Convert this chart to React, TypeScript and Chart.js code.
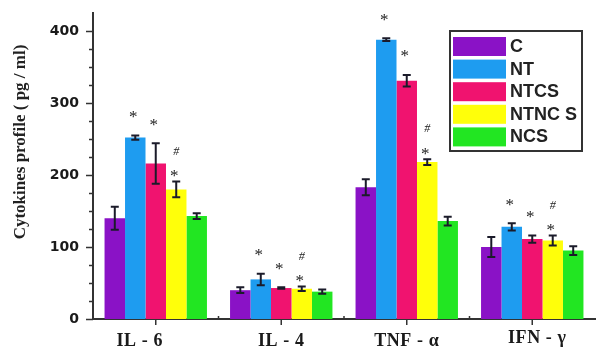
import React, { useEffect, useRef } from "react";
import { Chart, registerables } from "chart.js";

Chart.register(...registerables);

const categories = ["IL - 6", "IL - 4", "TNF - α", "IFN - γ"];
const seriesNames = ["C", "NT", "NTCS", "NTNC S", "NCS"];
const seriesColors = ["#8A12C6", "#1E9CF0", "#F0136F", "#FFFF0A", "#22E622"];

const valuesC = [140, 40, 183, 100];
const valuesNT = [252, 55, 388, 128];
const valuesNTCS = [216, 43, 331, 111];
const valuesNTNCS = [180, 42, 218, 109];
const valuesNCS = [143, 38, 136, 95];

const errC = [16, 4, 11, 14];
const errNT = [3, 8, 2, 5];
const errNTCS = [28, 1, 8, 5];
const errNTNCS = [11, 3, 4, 7];
const errNCS = [4, 3, 6, 6];

// significance marks per series, per category (stacked top->bottom)
const marksC = [[], [], [], []];
const marksNT = [["*"], ["*"], ["*"], ["*"]];
const marksNTCS = [["*"], ["*"], ["*"], ["*"]];
const marksNTNCS = [["#", "*"], ["#", "*"], ["#", "*"], ["#", "*"]];
const marksNCS = [[], [], [], []];

const yTickLabels = [0, 100, 200, 300, 400];
const yAxisTitle = "Cytokines profile ( pg / ml)";

const allValues = [valuesC, valuesNT, valuesNTCS, valuesNTNCS, valuesNCS];
const allErrors = [errC, errNT, errNTCS, errNTNCS, errNCS];
const allMarks = [marksC, marksNT, marksNTCS, marksNTNCS, marksNCS];

// small horizontal nudges of the category labels, as in the original figure
const labelNudge = [-16, 0, 0, 5];
const labelLift = [0, 0, 0, 3];

const decorPlugin = {
  id: "decor",
  afterDatasetsDraw(chart: any) {
    const ctx = chart.ctx;
    const y = chart.scales.y;
    const x = chart.scales.x;
    ctx.save();
    // error bars and marks
    chart.data.datasets.forEach((ds: any, i: number) => {
      const meta = chart.getDatasetMeta(i);
      meta.data.forEach((bar: any, j: number) => {
        const v = allValues[i][j];
        const e = allErrors[i][j];
        const yt = y.getPixelForValue(v + e);
        const yb = y.getPixelForValue(v - e);
        ctx.strokeStyle = "#1b1b2a";
        ctx.lineWidth = 2;
        ctx.beginPath();
        ctx.moveTo(bar.x, yt);
        ctx.lineTo(bar.x, yb);
        ctx.moveTo(bar.x - 4, yt);
        ctx.lineTo(bar.x + 4, yt);
        ctx.moveTo(bar.x - 4, yb);
        ctx.lineTo(bar.x + 4, yb);
        ctx.stroke();
        const marks = allMarks[i][j];
        if (marks.length) {
          ctx.fillStyle = "#222";
          ctx.textAlign = "center";
          ctx.textBaseline = "middle";
          const n = marks.length;
          let cy = n > 1 ? yt - 8 : yt - 21;
          for (let k = n - 1; k >= 0; k--) {
            const m = marks[k];
            if (m === "#") {
              ctx.font = "italic 12px 'Liberation Serif'";
              ctx.fillText(m, bar.x, cy);
            } else {
              ctx.font = "17px 'Liberation Serif'";
              ctx.fillText(m, bar.x - 2, cy + 3);
            }
            cy -= 22;
          }
        }
      });
    });
    // y tick marks
    ctx.strokeStyle = "#333";
    ctx.lineWidth = 1.5;
    ctx.beginPath();
    for (let v = 0; v <= 400; v += 25) {
      const py = Math.round(y.getPixelForValue(v)) + 0.5;
      const len = v % 100 === 0 ? 7 : 4;
      ctx.moveTo(y.right - len, py);
      ctx.lineTo(y.right, py);
    }
    // x tick marks
    const n = chart.data.labels.length;
    for (let j = 0; j < n; j++) {
      const px = x.getPixelForValue(j);
      ctx.moveTo(px, x.top);
      ctx.lineTo(px, x.top + 6);
      if (j > 0) {
        const bx = (x.getPixelForValue(j) + x.getPixelForValue(j - 1)) / 2;
        ctx.moveTo(bx, x.top);
        ctx.lineTo(bx, x.top - 3);
      }
    }
    ctx.stroke();
    // x category labels
    ctx.fillStyle = "#1a1a1a";
    ctx.font = "bold 18px 'Liberation Serif'";
    ctx.textAlign = "center";
    ctx.textBaseline = "alphabetic";
    try {
      ctx.letterSpacing = "0.6px";
    } catch (e) {}
    chart.data.labels.forEach((lab: string, j: number) => {
      ctx.fillText(lab, x.getPixelForValue(j) + labelNudge[j], 346 - labelLift[j]);
    });
    try {
      ctx.letterSpacing = "0px";
    } catch (e) {}
    // y axis title
    ctx.save();
    ctx.translate(21, 142);
    ctx.rotate(-Math.PI / 2);
    ctx.fillStyle = "#222";
    ctx.font = "bold 17px 'Liberation Serif'";
    ctx.textAlign = "center";
    ctx.textBaseline = "middle";
    ctx.fillText(yAxisTitle, 0, 0);
    ctx.restore();
    // legend
    ctx.fillStyle = "#fff";
    ctx.fillRect(450, 31, 132, 120);
    ctx.strokeStyle = "#333";
    ctx.lineWidth = 2;
    ctx.strokeRect(450, 31, 132, 120);
    chart.data.datasets.forEach((ds: any, i: number) => {
      const top = 37 + i * 22.6;
      ctx.fillStyle = ds.backgroundColor;
      ctx.fillRect(453, top, 53, 19);
      ctx.fillStyle = "#222";
      ctx.font = "bold 18px 'Liberation Sans'";
      ctx.textAlign = "left";
      ctx.textBaseline = "middle";
      ctx.fillText(ds.label, 510, top + 10);
    });
    ctx.restore();
  },
};

export default function App() {
  const ref = useRef<HTMLCanvasElement | null>(null);
  useEffect(() => {
    document.body.style.margin = "0";
    const canvas = ref.current!;
    const chart = new Chart(canvas, {
      type: "bar",
      data: {
        labels: categories,
        datasets: seriesNames.map((name, i) => ({
          label: name,
          data: allValues[i],
          backgroundColor: seriesColors[i],
          borderWidth: 0,
          barPercentage: 1,
          categoryPercentage: 0.816,
        })),
      },
      options: {
        responsive: false,
        animation: false,
        devicePixelRatio: 1,
        layout: { padding: { top: 13, right: 6, left: 0, bottom: 0 } },
        plugins: { legend: { display: false }, tooltip: { enabled: false } },
        scales: {
          x: {
            grid: { display: false, drawTicks: false },
            border: { display: true, color: "#333", width: 2 },
            ticks: { display: false },
            afterFit: (s: any) => {
              s.height = 37;
              s.paddingLeft = 0;
              s.paddingRight = 0;
            },
          },
          y: {
            min: 0,
            max: 425,
            grid: { display: false, drawTicks: false },
            border: { display: true, color: "#333", width: 2 },
            ticks: {
              stepSize: 25,
              autoSkip: false,
              color: "#1a1a1a",
              font: { family: "'DejaVu Sans'", size: 14, weight: "bold" },
              padding: 14,
              callback: (v: any) => (yTickLabels.includes(Number(v)) ? String(v) : ""),
            },
            afterFit: (s: any) => {
              s.width = 93;
              s.paddingTop = 0;
              s.paddingBottom = 0;
            },
          },
        },
      },
      plugins: [decorPlugin],
    });
    return () => chart.destroy();
  }, []);
  return (
    <div style={{ width: 601, height: 356, background: "#fff" }}>
      <canvas ref={ref} width={601} height={356} style={{ display: "block" }} />
    </div>
  );
}
